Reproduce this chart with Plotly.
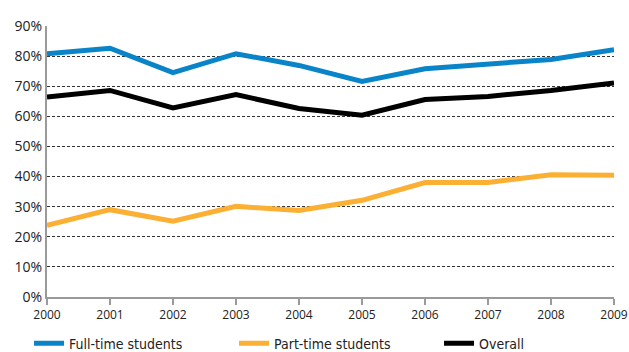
import plotly.graph_objects as go

years = [2000, 2001, 2002, 2003, 2004, 2005, 2006, 2007, 2008, 2009]
full_time = [80.8, 82.6, 74.5, 80.8, 76.9, 71.6, 75.8, 77.4, 78.9, 82.1]
part_time = [23.8, 29.0, 25.2, 30.1, 28.7, 32.1, 38.0, 38.0, 40.6, 40.4]
overall = [66.4, 68.6, 62.8, 67.2, 62.6, 60.4, 65.6, 66.6, 68.6, 71.1]
y_ticks = [0, 10, 20, 30, 40, 50, 60, 70, 80, 90]

legend_font = "Liberation Sans Narrow, DejaVu Sans Condensed, Open Sans, sans-serif"
tick_font = "Open Sans, sans-serif"

fig = go.Figure()
fig.add_trace(go.Scatter(x=years, y=full_time, mode="lines", name="Full-time students",
                         line=dict(color="#0a84c8", width=5), legendwidth=160))
fig.add_trace(go.Scatter(x=years, y=part_time, mode="lines", name="Part-time students",
                         line=dict(color="#fbb034", width=5), legendwidth=160))
fig.add_trace(go.Scatter(x=years, y=overall, mode="lines", name="Overall",
                         line=dict(color="#000000", width=5)))

fig.update_layout(
    width=629, height=352,
    margin=dict(l=47, r=15, t=26, b=55, autoexpand=False),
    paper_bgcolor="white", plot_bgcolor="white",
    font=dict(family=tick_font, color="#222", size=13),
    showlegend=True,
    legend=dict(orientation="h", x=-0.0317, xanchor="left", y=-0.113, yanchor="top",
                tracegroupgap=0,
                font=dict(size=14, family=legend_font, color="#222")),
    xaxis=dict(range=[2000, 2009], tickvals=years, ticktext=[str(y) for y in years],
               showgrid=False, zeroline=False, showline=True, linecolor="#9a9a9a", linewidth=2,
               ticks="outside", ticklen=6, tickwidth=2, tickcolor="#9a9a9a",
               tickfont=dict(size=12, family=tick_font), fixedrange=True),
    yaxis=dict(range=[0, 90], tickvals=y_ticks, ticktext=[f"{v}%" for v in y_ticks],
               showgrid=True, gridcolor="#333333", gridwidth=1, griddash="3px,2px",
               zeroline=False, showline=True, linecolor="#9a9a9a", linewidth=2,
               ticks="", tickfont=dict(size=14, family=tick_font),
               fixedrange=True),
)

fig.write_html("out.html")
